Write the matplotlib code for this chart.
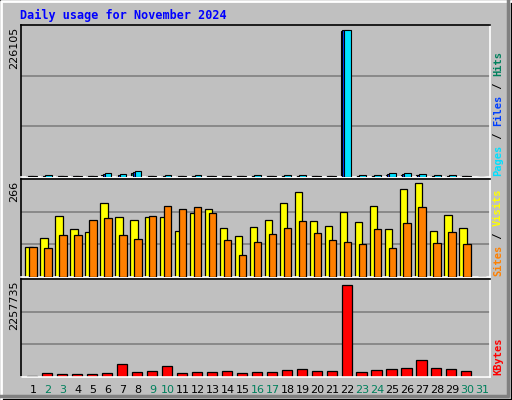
import matplotlib
matplotlib.use("Agg")
import matplotlib.pyplot as plt
import numpy as np

days = list(range(1, 32))
weekend = [2, 3, 9, 10, 16, 17, 23, 24, 30, 31]
hits = [1500, 3000, 1500, 1500, 2300, 6000, 4600, 9000, 1500, 3000, 1500, 3000, 1500, 1500, 1500,
        3000, 1500, 3000, 3000, 1500, 1500, 226105, 3000, 3000, 6000, 6000, 4600, 3000, 3000, 1500, 0]
files = [1000, 1500, 1000, 1000, 1500, 4000, 3000, 7500, 1000, 1500, 1000, 1500, 1000, 1000, 1000,
         1500, 1000, 1500, 1500, 1000, 1000, 225500, 1500, 1500, 4500, 4500, 3500, 1500, 1500, 1000, 0]
pages = [800, 800, 800, 800, 800, 3000, 2000, 6000, 800, 800, 800, 800, 800, 800, 800,
         800, 800, 800, 800, 800, 800, 225000, 800, 800, 3000, 3000, 2500, 800, 800, 800, 0]
visits = [85, 111, 174, 137, 128, 211, 171, 163, 171, 171, 131, 183, 194, 140, 117,
          143, 163, 211, 240, 160, 145, 186, 157, 203, 137, 249, 266, 131, 177, 140, 0]
sites = [85, 82, 120, 120, 163, 168, 120, 108, 174, 203, 194, 200, 183, 105, 62,
         100, 123, 140, 160, 125, 105, 100, 94, 137, 82, 154, 200, 97, 128, 94, 0]
kbytes = [33000, 107000, 66000, 66000, 66000, 91000, 330000, 132000, 157000, 280000, 107000,
          132000, 132000, 157000, 107000, 132000, 132000, 181000, 206000, 157000, 157000,
          2257735, 132000, 181000, 206000, 231000, 404000, 231000, 206000, 157000, 0]

BG = "#C0C0C0"
W, H = 512, 400
fig = plt.figure(figsize=(5.12, 4.0), dpi=100, facecolor=BG)
x = np.array(days)
mono = "DejaVu Sans Mono"

def mkax(top, bot):
    ax = fig.add_axes([21 / W, 1 - bot / H, 469 / W, (bot - top) / H])
    ax.set_facecolor(BG)
    ax.set_xlim(0.2, 31.53)
    ax.set_xticks([]); ax.set_yticks([])
    for s in ("left", "top"):
        ax.spines[s].set_color("black")
    for s in ("right", "bottom"):
        ax.spines[s].set_color("white")
    for sp in ax.spines.values():
        sp.set_linewidth(1.2)
    return ax

def grid(ax, ymax):
    for f in (1 / 3, 2 / 3):
        ax.axhline(ymax * f, color="#808080", lw=1.2, zorder=0)

# top panel
ax1 = mkax(25, 177)
ym1 = max(hits) * 152 / 147
ax1.set_ylim(0, ym1)
grid(ax1, ym1)
ax1.bar(x - 0.22, pages, width=0.45, color="#00805C", edgecolor="black", lw=0.8, zorder=2)
ax1.bar(x - 0.12, files, width=0.45, color="#0040FF", edgecolor="black", lw=0.8, zorder=3)
ax1.bar(x + 0.02, hits, width=0.45, color="#00E0FF", edgecolor="black", lw=0.8, zorder=4)

# middle panel
ax2 = mkax(179, 277)
ym2 = max(visits) * 97 / 92.7
ax2.set_ylim(0, ym2)
grid(ax2, ym2)
ax2.bar(x - 0.26, visits, width=0.5, color="#FFFF00", edgecolor="black", lw=0.9, zorder=2)
ax2.bar(x + 0.0, sites, width=0.5, color="#FF8000", edgecolor="black", lw=0.9, zorder=3)

# bottom panel
ax3 = mkax(279, 377)
ym3 = max(kbytes) * 97 / 91.4
ax3.set_ylim(0, ym3)
grid(ax3, ym3)
ax3.bar(x - 0.05, kbytes, width=0.68, color="#FF0000", edgecolor="black", lw=0.9, zorder=2)

# title
fig.text(20 / W, 1 - 15 / H, "Daily usage for November 2024", color="#0000FF",
         family=mono, fontweight="bold", fontsize=8.5, va="center", ha="left")

# max labels
for txt, yt in (("226105", 27), ("266", 181), ("2257735", 281)):
    fig.text(14 / W, 1 - yt / H, txt, rotation=90, ha="center", va="top",
             fontsize=8, color="black")

# right legends
def rlabel(parts, ybot):
    yy = 1 - ybot / H
    for t, c in parts:
        tx = fig.text(498 / W, yy, t, rotation=90, ha="center", va="bottom",
                      family=mono, fontweight="bold", fontsize=7.5, color=c)
        fig.canvas.draw()
        bb = tx.get_window_extent()
        yy += bb.height / fig.bbox.height

rlabel([("Pages", "#00E0FF"), (" / ", "#000000"), ("Files", "#0040FF"),
        (" / ", "#000000"), ("Hits", "#00805C")], 176)
rlabel([("Sites", "#FF8000"), (" / ", "#000000"), ("Visits", "#FFFF00")], 276)
rlabel([("KBytes", "#FF0000")], 375)

# day labels
for d in days:
    xf = (21 + (d - 0.2) / (31.53 - 0.2) * 469) / W
    fig.text(xf, 1 - 390 / H, str(d), ha="center", va="center", fontsize=8,
             color="#00805C" if d in weekend else "black")

# outer 3D frame
fig.add_artist(plt.Line2D([0.002, 0.002, 0.998], [0.002, 0.998, 0.998],
                          transform=fig.transFigure, color="white", lw=2))
fig.add_artist(plt.Line2D([0.002, 0.992, 0.992], [0.01, 0.01, 0.998],
                          transform=fig.transFigure, color="#808080", lw=2.5))
fig.add_artist(plt.Rectangle((0, 0), 1, 1, transform=fig.transFigure,
                             fill=False, edgecolor="black", lw=1.5))

fig.savefig("out.png", dpi=100, facecolor=BG)
